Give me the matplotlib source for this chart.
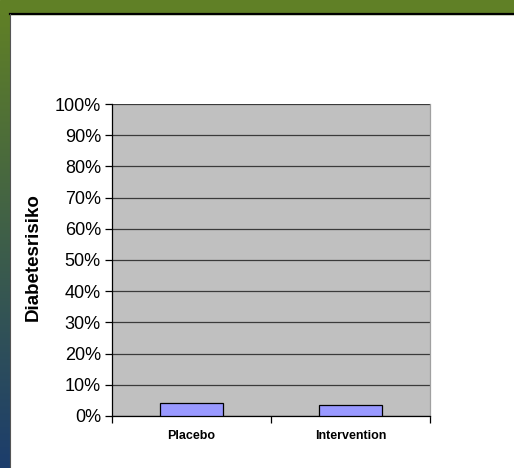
import numpy as np
import matplotlib.pyplot as plt
from matplotlib.colors import LinearSegmentedColormap
from matplotlib.patches import Rectangle
from matplotlib.ticker import PercentFormatter, FixedLocator

plt.rcParams['font.family'] = ['Liberation Sans', 'DejaVu Sans']

groups = ['Placebo', 'Intervention']
risk = [4.3, 3.4]          # Diabetesrisiko in %
yticks = np.arange(0, 101, 10)

fig = plt.figure(figsize=(5.14, 4.68), dpi=100, facecolor='white')

# slide background: green bar on top, green->blue strip on the left
bg = fig.add_axes([0, 0, 1, 1], zorder=-1)
bg.axis('off')
cmap = LinearSegmentedColormap.from_list('strip', ['#608026', '#1c3d6c'])
grad = np.linspace(0, 1, 256).reshape(-1, 1)
bg.imshow(grad, cmap=cmap, extent=(0, 9.5, 468, 13), aspect='auto', zorder=1)
bg.add_patch(Rectangle((0, 0), 514, 13.5, color='#608026', zorder=2))
bg.plot([9.5, 514], [13.5, 13.5], color='black', lw=1.6, zorder=3)
bg.plot([10, 10], [13.5, 468], color='#555555', lw=0.8, zorder=3)
bg.set_xlim(0, 514)
bg.set_ylim(468, 0)

ax = fig.add_axes([112/514, 52/468, 318/514, 312/468])
ax.set_facecolor('#c0c0c0')
x = np.arange(len(groups))
ax.bar(x, risk, width=0.4, color='#9999ff', edgecolor='black', linewidth=0.9, zorder=3)

ax.set_xlim(-0.5, 1.5)
ax.set_ylim(0, 100)
ax.set_yticks(yticks)
ax.yaxis.set_major_formatter(PercentFormatter(decimals=0))
ax.yaxis.grid(True, color='#3a3a3a', lw=0.9, zorder=1)
ax.set_axisbelow(True)
ax.tick_params(axis='y', labelsize=13, length=5, width=0.9, color='black', pad=3)

# category labels between boundary ticks
ax.set_xticks(x)
ax.set_xticklabels(groups, fontsize=9, fontweight='bold')
ax.tick_params(axis='x', length=0, pad=10)
ax.xaxis.set_minor_locator(FixedLocator([-0.5, 0.5, 1.5]))
ax.tick_params(axis='x', which='minor', length=5, width=0.9, color='black')

for s in ['left', 'bottom']:
    ax.spines[s].set_color('black')
    ax.spines[s].set_linewidth(0.9)
ax.spines['top'].set_visible(False)
ax.spines['right'].set_color('#a0a0a0')
ax.spines['right'].set_linewidth(0.9)

fig.text(33.5/514, 1 - 257/468, 'Diabetesrisiko', rotation=90, fontsize=13.5,
         fontweight='bold', ha='center', va='center')

fig.savefig('out.png', dpi=100)
